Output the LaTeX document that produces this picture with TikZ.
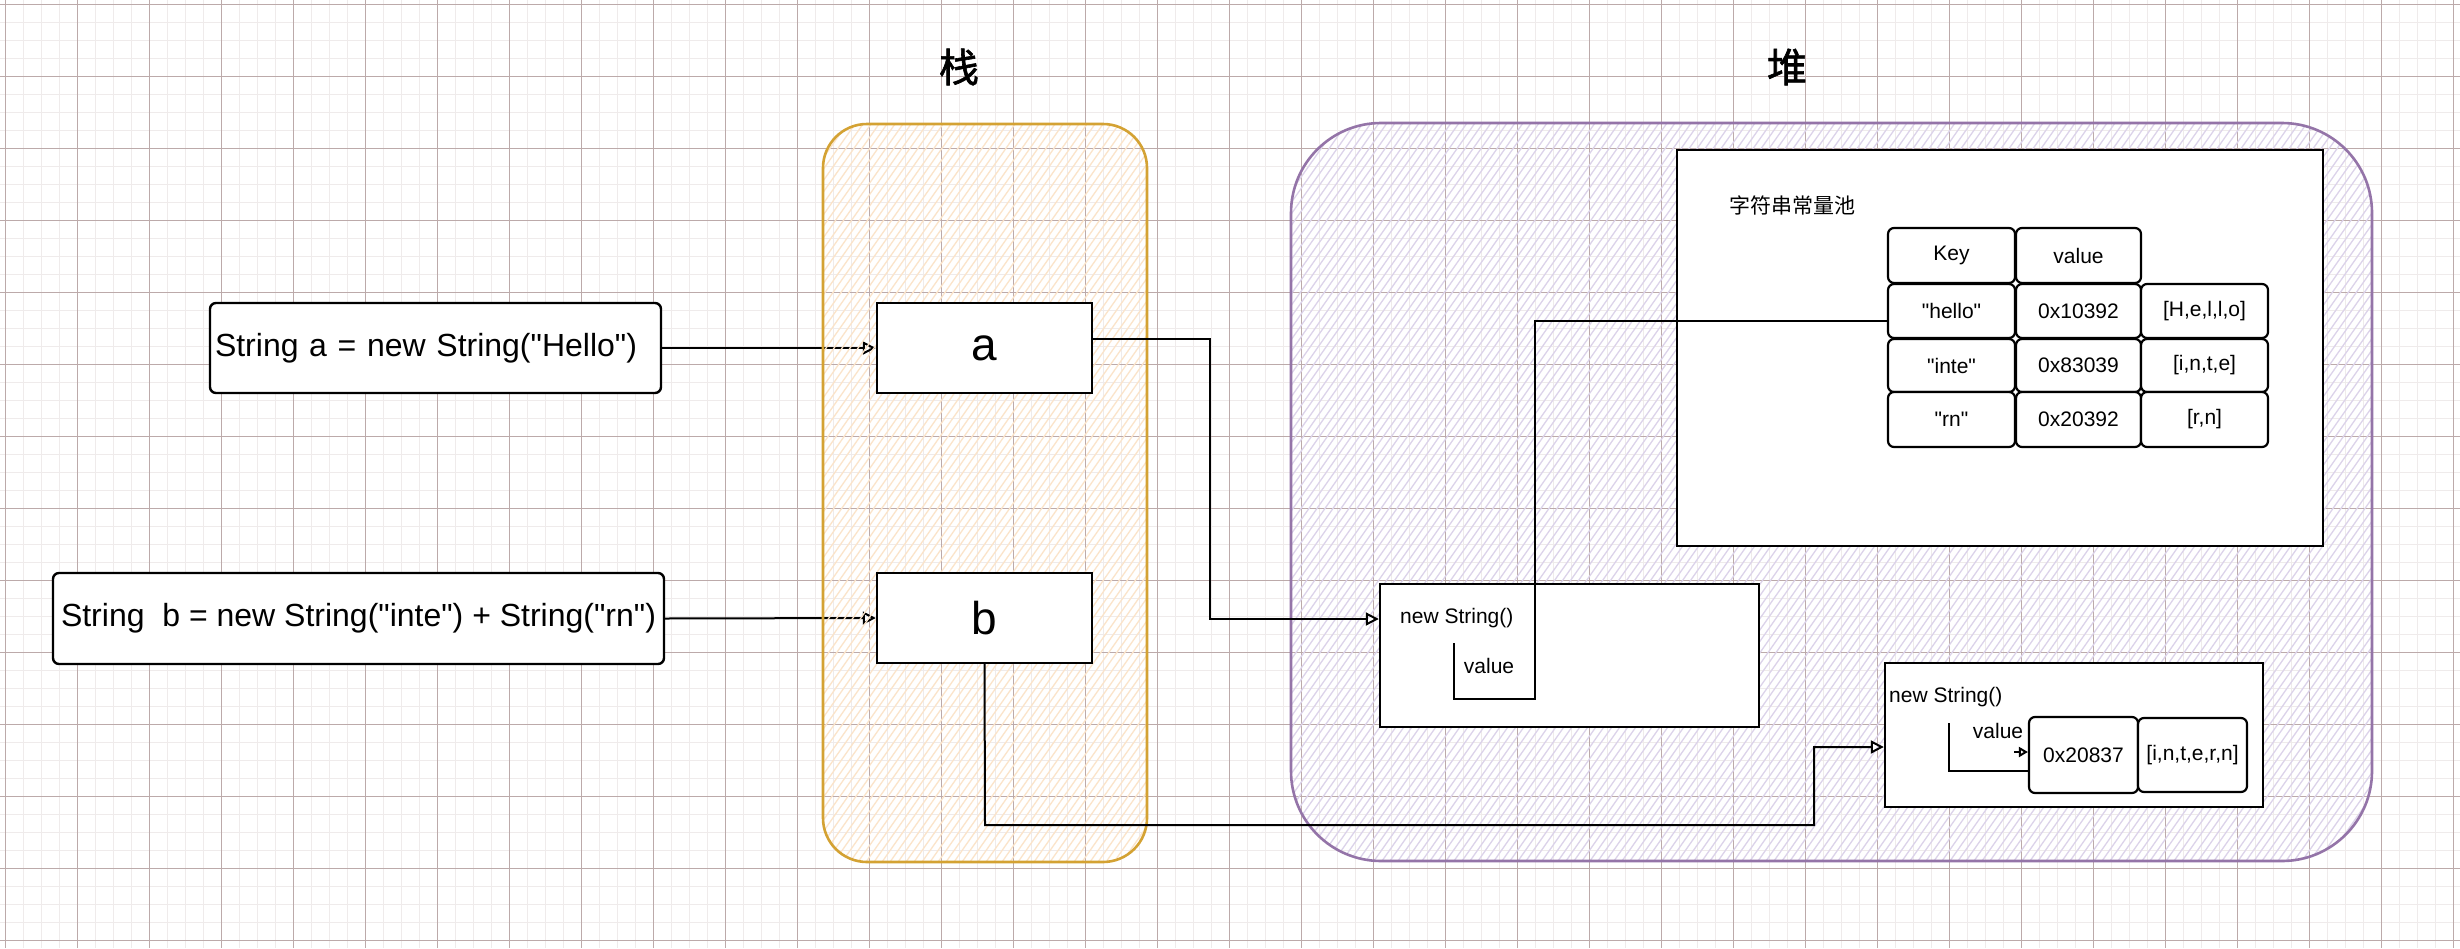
\documentclass[tikz,border=0pt]{standalone}
\usepackage{fontspec}
\setmainfont{Liberation Sans}
\newfontfamily\lsans{Liberation Sans}
\newfontfamily\cjk{Noto Sans CJK SC}
\newfontfamily\cjkbold[FakeBold=1.5]{Noto Sans CJK SC}
\usetikzlibrary{arrows.meta}
\pgfdeclarelayer{gridlayer}
\pgfdeclarelayer{underlayer}
\pgfdeclarelayer{hatchlayer}
\pgfsetlayers{gridlayer,underlayer,hatchlayer,main}
\definecolor{gridminor}{HTML}{EFEBEB}
\definecolor{gridmajor}{HTML}{BCAAAA}
\definecolor{stackline}{HTML}{D4A233}
\definecolor{stackhatch}{HTML}{FBE4CA}
\definecolor{heapline}{HTML}{9474A8}
\definecolor{heaphatch}{HTML}{DCD3EA}
\begin{document}
\begin{tikzpicture}[x=1pt,y=-1pt,
  txt/.style={font=\lsans\fontsize{21}{25}\selectfont, inner sep=0pt},
  bigtxt/.style={font=\lsans\fontsize{32}{38}\selectfont},
  boxstyle/.style={draw=black, line width=2.4pt, fill=white, inner sep=0pt},
  cellstyle/.style={draw=black, line width=2.2pt, fill=white, rounded corners=6pt, inner sep=0pt, font=\lsans\fontsize{21}{25}\selectfont},
  conn/.style={line width=2pt, black},
  arr/.style={conn, -{Triangle[open, length=13pt, width=13pt]}},
  smallarr/.style={conn, -{Triangle[open, length=9pt, width=10pt]}},
  minorline/.style={gridminor, line width=1.6pt},
  majorline/.style={gridmajor, line width=1.1pt},
  hatchline/.style={line width=1.3pt},
]
\useasboundingbox (0,0) rectangle (2460,948);

% ---------- grid ----------
\begin{pgfonlayer}{gridlayer}
\fill[white] (0,0) rectangle (2460,948);
\foreach \i in {0,...,136} \draw[minorline] ({5.4+18*\i},0) -- ({5.4+18*\i},948);
\foreach \j in {0,...,52} \draw[minorline] (0,{4.3+18*\j}) -- (2460,{4.3+18*\j});
\foreach \i in {0,...,34} \draw[majorline] ({5.4+72*\i},0) -- ({5.4+72*\i},948);
\foreach \j in {0,...,13} \draw[majorline] (0,{4.3+72*\j}) -- (2460,{4.3+72*\j});
\end{pgfonlayer}

% ---------- stack and heap containers ----------
\begin{pgfonlayer}{hatchlayer}
\begin{scope}
\clip[rounded corners=44pt] (823,124) rectangle (1147,862);
\foreach \i in {0,...,105} \draw[hatchline, stackhatch] ({306+8*\i},862) -- ({823+8*\i},124);
\end{scope}
\draw[stackline, line width=2.6pt, rounded corners=44pt] (823,124) rectangle (1147,862);
\begin{scope}
\clip[rounded corners=90pt] (1291,123) rectangle (2372,861);
\foreach \i in {0,...,200} \draw[hatchline, heaphatch] ({774+8*\i},861) -- ({1291+8*\i},123);
\end{scope}
\draw[heapline, line width=2.6pt, rounded corners=90pt] (1291,123) rectangle (2372,861);
\end{pgfonlayer}

% ---------- titles ----------
\node[font=\cjkbold\fontsize{40}{44}\selectfont] (stacktitle) at (959,67) {栈};
\node[font=\cjkbold\fontsize{40}{44}\selectfont] (heaptitle) at (1787,67) {堆};

% ---------- code boxes ----------
\node[boxstyle, bigtxt, rounded corners=6pt, minimum height=90pt, text width=441pt, inner xsep=5pt, align=left] (sa) at (435.5,348) {String a = new String("Hello")};
\node[boxstyle, bigtxt, rounded corners=6pt, minimum width=611pt, minimum height=91pt] (sb) at (358.5,618.5) {String\ \ b = new String("inte") + String("rn")};

% ---------- stack variables ----------
\node[boxstyle, minimum width=215pt, minimum height=90pt, font=\lsans\fontsize{46}{50}\selectfont] (a) at (984.5,348) {a};
\node[boxstyle, minimum width=215pt, minimum height=90pt, font=\lsans\fontsize{46}{50}\selectfont] (b) at (984.5,618) {b};

% ---------- string constant pool ----------
\node[boxstyle, minimum width=646pt, minimum height=396pt] (pool) at (2000,348) {};
\node[font=\cjk\fontsize{21}{25}\selectfont, anchor=west, inner sep=0pt] (pooltitle) at (1729,205) {字符串常量池};

\node[cellstyle, minimum width=127pt, minimum height=55pt] (key) at (1951.5,255.5) {Key};
\node[cellstyle, minimum width=125pt, minimum height=55pt] (val) at (2078.5,255.5) {value};
\node[cellstyle, minimum width=127pt, minimum height=54pt] (hello) at (1951.5,311) {"hello"};
\node[cellstyle, minimum width=125pt, minimum height=54pt] (h1) at (2078.5,311) {0x10392};
\node[cellstyle, minimum width=127pt, minimum height=54pt] (h2) at (2204.5,311) {[H,e,l,l,o]};
\node[cellstyle, minimum width=127pt, minimum height=53pt] (inte) at (1951.5,365.5) {"inte"};
\node[cellstyle, minimum width=125pt, minimum height=53pt] (i1) at (2078.5,365.5) {0x83039};
\node[cellstyle, minimum width=127pt, minimum height=53pt] (i2) at (2204.5,365.5) {[i,n,t,e]};
\node[cellstyle, minimum width=127pt, minimum height=55pt] (rn) at (1951.5,419.5) {"rn"};
\node[cellstyle, minimum width=125pt, minimum height=55pt] (r1) at (2078.5,419.5) {0x20392};
\node[cellstyle, minimum width=127pt, minimum height=55pt] (r2) at (2204.5,419.5) {[r,n]};

% ---------- new String() objects ----------
\node[boxstyle, minimum width=379pt, minimum height=143pt] (ns1) at (1569.5,655.5) {};
\node[txt, anchor=west] (ns1t) at (1400,618) {new String()};
\node[txt] (ns1v) at (1489,666) {value};

\node[boxstyle, minimum width=378pt, minimum height=144pt] (ns2) at (2074,735) {};
\node[txt, anchor=west] (ns2t) at (1889,697) {new String()};
\node[txt] (ns2v) at (1998,731) {value};
\node[cellstyle, minimum width=109pt, minimum height=76pt] (c1) at (2083.5,755) {0x20837};
\node[cellstyle, minimum width=109pt, minimum height=74pt] (c2) at (2192.5,755) {[i,n,t,e,r,n]};

% ---------- connectors ----------
\begin{pgfonlayer}{underlayer}
\draw[arr] (sa.east) -- (a.west);
\draw[arr] (sb.east) -- (b.west);
\end{pgfonlayer}

\draw[arr] ([yshift=9pt]a.east) -- (1210,339) -- (1210,619) -- ([yshift=36.5pt]ns1.west);
\draw[arr] (b.south) -- (985,825) -- (1814,825) -- (1814,747) -- ([yshift=-12pt]ns2.west);
\draw[conn] (1454,643) -- (1454,699) -- (1535,699) -- (1535,321) -- ([yshift=-10pt]hello.west);
\draw[conn] (1949,723) -- (1949,771) -- ([yshift=-16pt]c1.west);
\draw[smallarr] (2014,752) -- ([yshift=3pt]c1.west);
\end{tikzpicture}
\end{document}
